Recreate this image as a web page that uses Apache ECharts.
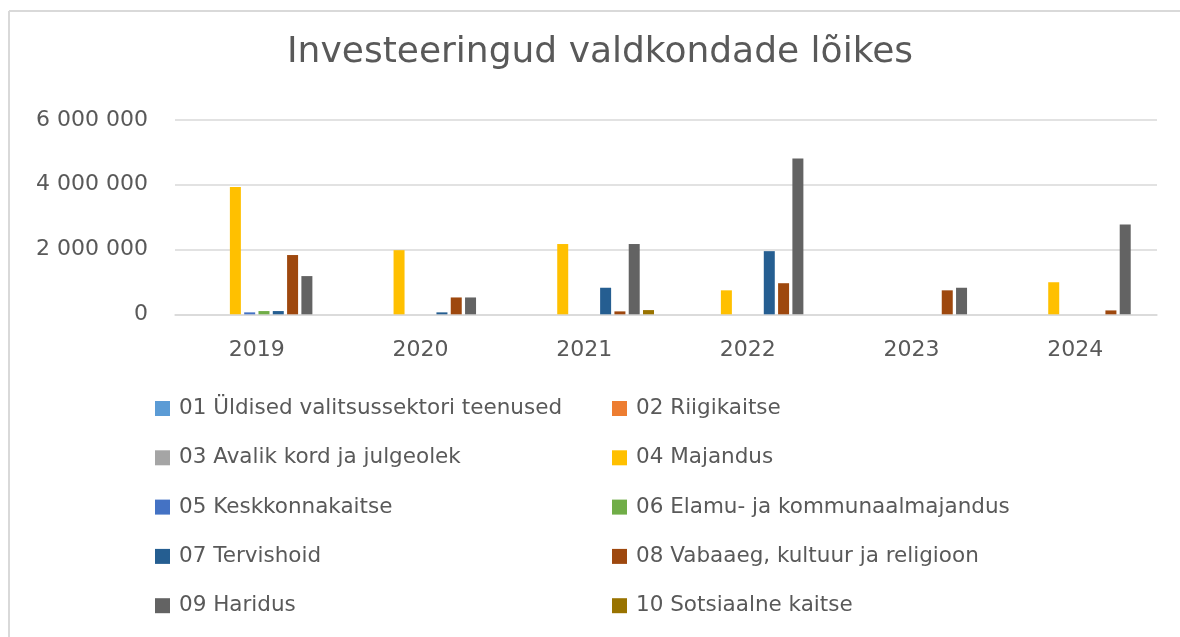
<!DOCTYPE html>
<html>
<head>
<meta charset="utf-8">
<title>Investeeringud valdkondade lõikes</title>
<script src="https://cdn.jsdelivr.net/npm/echarts@6/dist/echarts.min.js"></script>
<style>
  html, body { margin: 0; padding: 0; background: #fff; overflow: hidden; }
  #main { width: 1180px; height: 637px; }
</style>
</head>
<body>
<div id="main"></div>
<script>
// andmed
const years = ["2019", "2020", "2021", "2022", "2023", "2024"];
const seriesNames = [
  "01 Üldised valitsussektori teenused",
  "02 Riigikaitse",
  "03 Avalik kord ja julgeolek",
  "04 Majandus",
  "05 Keskkonnakaitse",
  "06 Elamu- ja kommunaalmajandus",
  "07 Tervishoid",
  "08 Vabaaeg, kultuur ja religioon",
  "09 Haridus",
  "10 Sotsiaalne kaitse",
];
const s01 = [0, 0, 0, 0, 0, 0];
const s02 = [0, 0, 0, 0, 0, 0];
const s03 = [0, 0, 0, 0, 0, 0];
const s04 = [3930000, 1980000, 2170000, 740000, 0, 990000];
const s05 = [60000, 0, 0, 0, 0, 0];
const s06 = [100000, 0, 0, 0, 0, 0];
const s07 = [100000, 60000, 820000, 1950000, 0, 0];
const s08 = [1830000, 520000, 90000, 960000, 740000, 120000];
const s09 = [1180000, 520000, 2170000, 4810000, 820000, 2770000];
const s10 = [0, 0, 130000, 0, 0, 0];
const yTicks = [0, 2000000, 4000000, 6000000];

const colors = ["#5B9BD5", "#ED7D31", "#A5A5A5", "#FFC000", "#4472C4",
  "#70AD47", "#255E91", "#9E480E", "#636363", "#997300"];
const allData = [s01, s02, s03, s04, s05, s06, s07, s08, s09, s10];

const textColor = "#595959";
const fontFam = "'DejaVu Sans', sans-serif";

function fmt(v) {
  return String(v).replace(/\B(?=(\d{3})+(?!\d))/g, " ");
}

const legendBase = {
  orient: "vertical",
  top: 392.5,
  itemWidth: 15,
  itemHeight: 15,
  itemGap: 27.3,
  icon: "rect",
  textStyle: { color: textColor, fontSize: 21.5, fontFamily: fontFam, lineHeight: 20, padding: [0, 0, 0, 4] },
};

const chart = echarts.init(document.getElementById("main"));
chart.setOption({
  animation: false,
  color: colors,
  graphic: [
    {
      type: "line",
      shape: { x1: 9, y1: 11, x2: 1185, y2: 11 },
      style: { stroke: "#D9D9D9", lineWidth: 2 },
      silent: true,
    },
    {
      type: "line",
      shape: { x1: 9, y1: 11, x2: 9, y2: 640 },
      style: { stroke: "#D9D9D9", lineWidth: 2 },
      silent: true,
    },
  ],
  title: {
    text: "Investeeringud valdkondade lõikes",
    left: 282,
    top: 30,
    textStyle: { color: textColor, fontSize: 36, fontWeight: "normal", fontFamily: fontFam },
  },
  legend: [
    Object.assign({}, legendBase, { left: 150, data: seriesNames.filter((_, i) => i % 2 === 0) }),
    Object.assign({}, legendBase, { left: 607, data: seriesNames.filter((_, i) => i % 2 === 1) }),
  ],
  grid: { left: 175, right: 23, top: 120, height: 194.3 },
  xAxis: {
    type: "category",
    data: years,
    axisLine: { lineStyle: { color: "#D9D9D9", width: 1.5 } },
    axisTick: { show: false },
    axisLabel: { color: textColor, fontSize: 22, fontFamily: fontFam, margin: 25 },
  },
  yAxis: {
    type: "value",
    min: yTicks[0],
    max: yTicks[yTicks.length - 1],
    interval: 2000000,
    axisLine: { show: false },
    axisTick: { show: false },
    splitLine: { lineStyle: { color: "#D9D9D9", width: 1.5 } },
    axisLabel: { color: textColor, fontSize: 22, fontFamily: fontFam, margin: 27, formatter: fmt },
  },
  series: seriesNames.map((name, i) => ({
    name: name,
    type: "bar",
    data: allData[i],
    barWidth: 11,
    barGap: "30%",
    itemStyle: { color: colors[i] },
  })),
});
</script>
</body>
</html>
